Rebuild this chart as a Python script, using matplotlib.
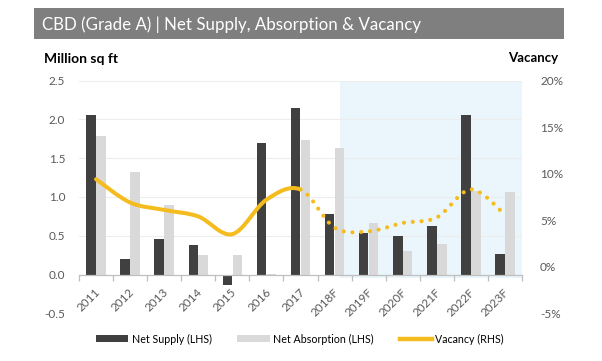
import matplotlib
matplotlib.use('Agg')
import numpy as np
import matplotlib.pyplot as plt
from matplotlib.path import Path
from matplotlib.patches import PathPatch, Rectangle, Patch
from matplotlib.lines import Line2D
import matplotlib.transforms as mtransforms
from matplotlib.ticker import FuncFormatter, MultipleLocator

plt.rcParams['font.family'] = ['Lato', 'DejaVu Sans']

# ---------------- data ----------------
categories = ['2011', '2012', '2013', '2014', '2015', '2016', '2017',
              '2018F', '2019F', '2020F', '2021F', '2022F', '2023F']
net_supply = [2.06, 0.20, 0.46, 0.38, -0.13, 1.69, 2.14, 0.78, 0.54, 0.50, 0.62, 2.05, 0.26]
net_absorption = [1.78, 1.32, 0.89, 0.25, 0.25, 0.01, 1.73, 1.63, 0.67, 0.30, 0.39, 1.07, 1.06]
vacancy_pct = [9.4, 6.9, 6.1, 5.4, 3.5, 7.2, 8.3, 4.2, 3.8, 4.7, 5.3, 8.3, 5.6]
last_actual = '2017'
title = 'CBD (Grade A) | Net Supply, Absorption & Vacancy'
left_label = 'Million sq ft'
right_label = 'Vacancy'
legend_labels = ['Net Supply (LHS)', 'Net Absorption (LHS)', 'Vacancy (RHS)']

# ---------------- style ----------------
C_SUPPLY = '#404040'
C_ABS = '#D9D9D9'
C_VAC = '#F4BC1E'
C_SHADE = '#EAF6FC'
C_TXT = '#595959'

W, H = 602, 361
fig = plt.figure(figsize=(W / 100, H / 100), dpi=100)
ax = fig.add_axes([79 / W, 1 - 313.3 / H, 443 / W, 232.8 / H])
ax2 = ax.twinx()

x = np.arange(len(categories))
bw = 0.28
ax.axvspan(7.15, len(categories) - 0.5, ymin=0.15, ymax=1.0,
           color=C_SHADE, zorder=0, lw=0)
ax.bar(x - 0.145, net_supply, width=bw, color=C_SUPPLY, zorder=2)
ax.bar(x + 0.145, net_absorption, width=bw, color=C_ABS, zorder=2)

ax.set_xlim(-0.5, len(categories) - 0.5)
ax.set_ylim(-0.5, 2.5)
ax.yaxis.set_major_locator(MultipleLocator(0.5))
ax.yaxis.set_major_formatter(FuncFormatter(lambda v, p: f'{v:.1f}'))
ax.grid(axis='y', color='#EDEDED', lw=0.8, zorder=1)
ax.set_axisbelow(True)
for s in ['left', 'right', 'top']:
    ax.spines[s].set_visible(False)
ax.spines['bottom'].set_position(('data', 0))
ax.spines['bottom'].set_color('#BFBFBF')
ax.spines['bottom'].set_linewidth(0.9)
ax.spines['bottom'].set_zorder(3)
ax.tick_params(axis='y', length=0, labelsize=8.5, labelcolor=C_TXT, pad=10)
ax.set_xticks(x)
ax.set_xticklabels(categories, rotation=45, ha='right', va='center',
                   rotation_mode='anchor')
ax.set_xticks(np.arange(-0.5, len(categories), 1.0), minor=True)
ax.tick_params(axis='x', which='major', length=0, labelsize=8.5,
               labelcolor=C_TXT, pad=11.5)
ax.tick_params(axis='x', which='minor', length=4, color='#BFBFBF', width=0.9)
off = mtransforms.ScaledTranslation(2.5 / 100, 0, fig.dpi_scale_trans)
for lab in ax.get_xticklabels():
    lab.set_transform(lab.get_transform() + off)

# vacancy on right axis
ax2.set_ylim(-0.05, 0.20)
ax2.yaxis.set_major_locator(MultipleLocator(0.05))
ax2.yaxis.set_major_formatter(FuncFormatter(lambda v, p: f'{v * 100:.0f}%'))
ax2.tick_params(axis='y', length=0, labelsize=8.5, labelcolor=C_TXT, pad=13)
for s in ax2.spines.values():
    s.set_visible(False)

vac = np.array(vacancy_pct) / 100.0
pts = np.column_stack([x, vac])
n = len(pts)


def smooth_path(i0, i1):
    verts = [tuple(pts[i0])]
    codes = [Path.MOVETO]
    for i in range(i0, i1):
        p0 = pts[max(i - 1, 0)]
        p1 = pts[i]
        p2 = pts[i + 1]
        p3 = pts[min(i + 2, n - 1)]
        c1 = p1 + (p2 - p0) / 6.0
        c2 = p2 - (p3 - p1) / 6.0
        verts += [tuple(c1), tuple(c2), tuple(p2)]
        codes += [Path.CURVE4] * 3
    return Path(verts, codes)


k = categories.index(last_actual)
solid = PathPatch(smooth_path(0, k), fill=False, edgecolor=C_VAC, lw=2.9,
                  capstyle='round', joinstyle='round', zorder=4)
dotted = PathPatch(smooth_path(k, n - 1), fill=False, edgecolor=C_VAC, lw=3.0,
                   linestyle=(0, (0.01, 2.1)), capstyle='round', zorder=4)
ax2.add_patch(solid)
ax2.add_patch(dotted)

# title bar
fig.patches.append(Rectangle((34 / W, 1 - 39.3 / H), 530 / W, 31 / H,
                             transform=fig.transFigure, facecolor='#7F7F7F',
                             edgecolor='none', zorder=0))
t_title = fig.text(42 / W, 1 - 24.5 / H, title, color='white', fontsize=12,
                   va='center', ha='left')
t_left = fig.text(44 / W, 1 - 59 / H, left_label, color='black', fontsize=9,
                  fontweight='bold', va='center', ha='left')
t_right = fig.text(558 / W, 1 - 58 / H, right_label, color='black', fontsize=9,
                   fontweight='bold', va='center', ha='right')

handles = [Patch(facecolor=C_SUPPLY), Patch(facecolor=C_ABS),
           Line2D([], [], color=C_VAC, lw=3.2)]
leg = fig.legend(handles, legend_labels, loc='center',
                 bbox_to_anchor=(300 / W, 1 - 339 / H), ncol=3, frameon=False,
                 fontsize=7.7, handlelength=3.0, handleheight=0.6,
                 handletextpad=0.35, columnspacing=2.4, labelcolor='black')

# fit text widths to reference
fig.canvas.draw()
r = fig.canvas.get_renderer()
for t, target in [(t_title, 376), (t_left, 74), (t_right, 50)]:
    w = t.get_window_extent(r).width
    t.set_fontsize(t.get_fontsize() * target / w)

fig.savefig('out.png', dpi=100)
